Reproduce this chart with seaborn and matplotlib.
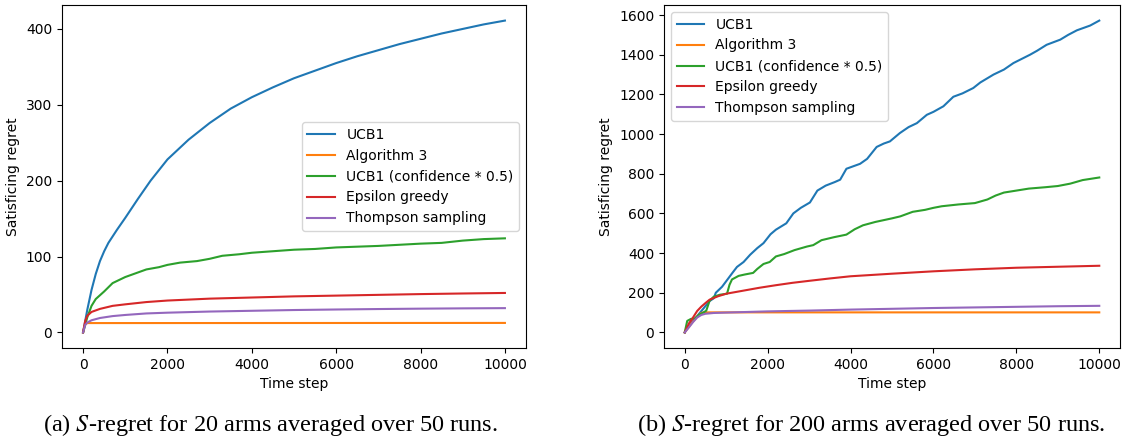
import matplotlib
matplotlib.use("Agg")
import matplotlib.pyplot as plt
import seaborn as sns
import pandas as pd

names = ["UCB1", "Algorithm 3", "UCB1 (confidence * 0.5)", "Epsilon greedy", "Thompson sampling"]

# (a) 20 arms
a_ucb_t = [0, 100, 200, 300, 400, 500, 600, 800, 1000, 1300, 1600, 2000, 2500, 3000, 3500, 4000, 4500,
           5000, 5500, 6000, 6500, 7000, 7500, 8000, 8500, 9000, 9500, 10000]
a_ucb_v = [0, 30, 56, 77, 94, 107, 118, 135, 151, 176, 200, 228, 254, 276, 295, 310, 323,
           335, 345, 355, 364, 372, 380, 387, 394, 400, 406, 411]
a_alg_t = [0, 30, 60, 100, 10000]
a_alg_v = [0, 8, 11, 12.3, 12.5]
a_half_t = [0, 100, 200, 300, 500, 700, 1000, 1200, 1500, 1800, 2000, 2300, 2700, 3000, 3300, 3700,
            4000, 4500, 5000, 5500, 6000, 7000, 8000, 8500, 9000, 9500, 10000]
a_half_v = [0, 20, 35, 44, 54, 65, 73, 77, 83, 86, 89, 92, 94, 97, 101, 103,
            105, 107, 109, 110, 112, 114, 117, 118, 121, 123, 124]
a_eps_t = [0, 50, 100, 200, 400, 700, 1000, 1500, 2000, 3000, 4000, 5000, 6000, 7000, 8000, 9000, 10000]
a_eps_v = [0, 15, 22, 27, 31, 35, 37, 40, 42, 44.5, 46, 47.5, 48.5, 49.5, 50.5, 51.3, 52]
a_ts_t = [0, 50, 100, 200, 400, 700, 1000, 1500, 2000, 3000, 4000, 5000, 6000, 7000, 8000, 9000, 10000]
a_ts_v = [0, 10, 13, 16, 19, 21.5, 23, 25, 26, 27.5, 28.5, 29.5, 30.2, 30.8, 31.3, 31.7, 32]

# (b) 200 arms
b_ucb_t = [0, 150, 300, 450, 600, 700, 750, 900, 1000, 1150, 1260, 1420, 1580, 1750, 1900, 2070, 2200,
           2450, 2620, 2800, 3020, 3200, 3400, 3620, 3750, 3900, 4230, 4400, 4630, 4800, 4950, 5190,
           5400, 5600, 5840, 6000, 6240, 6480, 6700, 6960, 7130, 7450, 7700, 7930, 8330, 8500, 8730,
           9060, 9250, 9460, 9780, 10000]
b_ucb_v = [0, 50, 82, 120, 158, 172, 200, 230, 258, 300, 330, 355, 392, 425, 450, 495, 518,
           550, 600, 628, 655, 715, 740, 758, 770, 825, 850, 875, 935, 952, 963, 1005,
           1035, 1055, 1097, 1112, 1140, 1188, 1205, 1232, 1260, 1300, 1325, 1358, 1400, 1420, 1450,
           1476, 1500, 1523, 1547, 1572]
b_alg_t = [0, 100, 200, 300, 400, 450, 10000]
b_alg_v = [0, 28, 55, 80, 98, 101, 101]
b_half_t = [0, 60, 150, 250, 350, 450, 520, 600, 700, 850, 1020, 1080, 1140, 1300, 1450, 1650, 1750,
            1900, 2050, 2200, 2400, 2650, 2950, 3100, 3300, 3600, 3900, 4100, 4300, 4600, 5000, 5200,
            5500, 5800, 6000, 6200, 6600, 7000, 7300, 7500, 7700, 8000, 8300, 8700, 9000, 9300, 9600, 10000]
b_half_v = [0, 58, 68, 70, 90, 100, 110, 160, 180, 190, 195, 240, 267, 285, 292, 300, 320,
            345, 355, 383, 395, 415, 433, 440, 465, 480, 493, 520, 540, 557, 575, 585,
            608, 618, 628, 636, 645, 652, 670, 690, 705, 715, 725, 732, 738, 750, 768, 781]
b_eps_t = [0, 100, 200, 300, 400, 500, 600, 800, 1000, 1400, 1800, 2200, 2600, 3000, 3500, 4000,
           5000, 6000, 7000, 8000, 9000, 10000]
b_eps_v = [0, 45, 75, 108, 130, 148, 165, 182, 195, 210, 225, 238, 250, 260, 272, 283,
           296, 308, 318, 326, 331, 336]
b_ts_t = [0, 100, 200, 300, 400, 500, 700, 1000, 2000, 3000, 4000, 5000, 6000, 7000, 8000, 9000, 10000]
b_ts_v = [0, 25, 52, 75, 88, 94, 98, 100, 106, 110, 115, 119, 123, 126, 129, 132, 134]

panel_a = [(a_ucb_t, a_ucb_v), (a_alg_t, a_alg_v), (a_half_t, a_half_v), (a_eps_t, a_eps_v), (a_ts_t, a_ts_v)]
panel_b = [(b_ucb_t, b_ucb_v), (b_alg_t, b_alg_v), (b_half_t, b_half_v), (b_eps_t, b_eps_v), (b_ts_t, b_ts_v)]

plt.rcParams['font.size'] = 10
plt.rcParams['mathtext.fontset'] = 'stix'
colors = sns.color_palette("tab10", 5)

fig = plt.figure(figsize=(11.3, 4.4), dpi=100)
ax1 = fig.add_axes([62 / 1130, 92 / 440, 464 / 1130, 343 / 440])
ax2 = fig.add_axes([664 / 1130, 92 / 440, 456 / 1130, 343 / 440])

for ax, series, loc in [(ax1, panel_a, "center right"), (ax2, panel_b, "upper left")]:
    for name, (t, v), c in zip(names, series, colors):
        df = pd.DataFrame({"Time step": t, "regret": v})
        sns.lineplot(data=df, x="Time step", y="regret", ax=ax, color=c, label=name,
                     estimator=None, linewidth=1.5)
    ax.set_xlabel("Time step")
    ax.set_ylabel("Satisficing regret")
    ax.set_xticks([0, 2000, 4000, 6000, 8000, 10000])
    ax.legend(loc=loc)

ax2.set_yticks(range(0, 1601, 200))

fig.text(43 / 1130, 9 / 440, r"(a) $S$-regret for 20 arms averaged over 50 runs.",
         ha="left", va="baseline", fontsize=17.5, family="Liberation Serif")
fig.text(1105 / 1130, 9 / 440, r"(b) $S$-regret for 200 arms averaged over 50 runs.",
         ha="right", va="baseline", fontsize=17.5, family="Liberation Serif")

fig.savefig("out.png", dpi=100)
